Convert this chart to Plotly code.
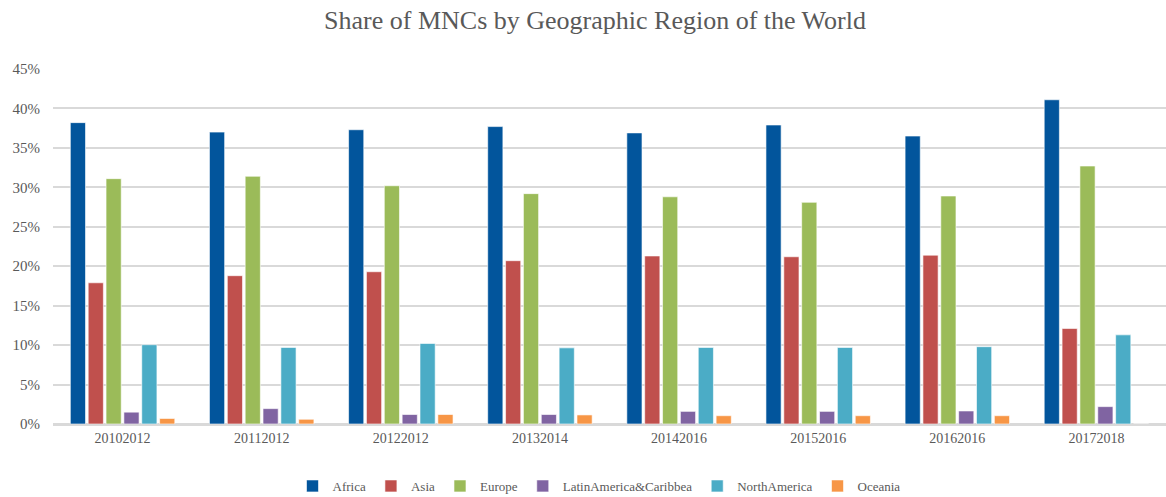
import plotly.graph_objects as go

categories = ["20102012", "20112012", "20122012", "20132014", "20142016", "20152016", "20162016", "20172018"]

africa = [38.2, 37.0, 37.3, 37.7, 36.9, 37.9, 36.5, 41.1]
asia = [17.9, 18.8, 19.3, 20.7, 21.3, 21.2, 21.4, 12.1]
europe = [31.1, 31.4, 30.2, 29.2, 28.8, 28.1, 28.9, 32.7]
latin_america = [1.5, 1.95, 1.2, 1.2, 1.6, 1.6, 1.65, 2.2]
north_america = [10.05, 9.7, 10.2, 9.65, 9.7, 9.7, 9.8, 11.3]
oceania = [0.7, 0.6, 1.2, 1.15, 1.05, 1.05, 1.05, 0.0]

series_names = ["Africa", "Asia", "Europe", "LatinAmerica&Caribbea", "NorthAmerica", "Oceania"]
series_values = [africa, asia, europe, latin_america, north_america, oceania]
series_colors = ["#02559C", "#C0504D", "#9BBB59", "#8064A2", "#4BACC6", "#F79646"]

fig = go.Figure()
for name, vals, col in zip(series_names, series_values, series_colors):
    fig.add_trace(go.Bar(
        x=categories, y=[v / 100 for v in vals], name=name,
        marker=dict(color=col, line=dict(color="white", width=0.6)),
    ))

font_family = "Liberation Serif, DejaVu Serif, serif"
fig.update_layout(
    width=1166, height=497,
    barmode="group", bargap=0.23, bargroupgap=0.15,
    plot_bgcolor="white", paper_bgcolor="white",
    margin=dict(l=53, r=0, t=69, b=73, autoexpand=False),
    title=dict(text="Share of MNCs by Geographic Region of the World",
               xref="container", x=595 / 1166, xanchor="center",
               yref="container", y=1 - 20 / 497, yanchor="middle",
               font=dict(family=font_family, size=26, color="#595959")),
    font=dict(family=font_family, size=14, color="#595959"),
    showlegend=True,
    legend=dict(orientation="h", xref="container", x=599 / 1166, xanchor="center",
                yref="container", y=1 - 486 / 497, yanchor="middle",
                font=dict(family=font_family, size=13, color="#595959"),
                itemwidth=30, tracegroupgap=0),
    xaxis=dict(showgrid=False, showline=True, linecolor="#D9D9D9", linewidth=1.5,
               ticks="", tickfont=dict(size=14, color="#595959"), automargin=False),
    yaxis=dict(range=[0, 0.45], dtick=0.05, tickformat=".0%",
               showgrid=True, gridcolor="#D9D9D9", gridwidth=1.5,
               zeroline=True, zerolinecolor="#D9D9D9", zerolinewidth=1.5,
               showline=False, ticks="", ticklabelstandoff=12, automargin=False,
               tickfont=dict(size=15, color="#595959")),
)

fig.write_html(
    "out.html",
    config={"displayModeBar": False},
    post_script="document.body.style.margin='0';document.body.style.overflow='hidden';",
)
